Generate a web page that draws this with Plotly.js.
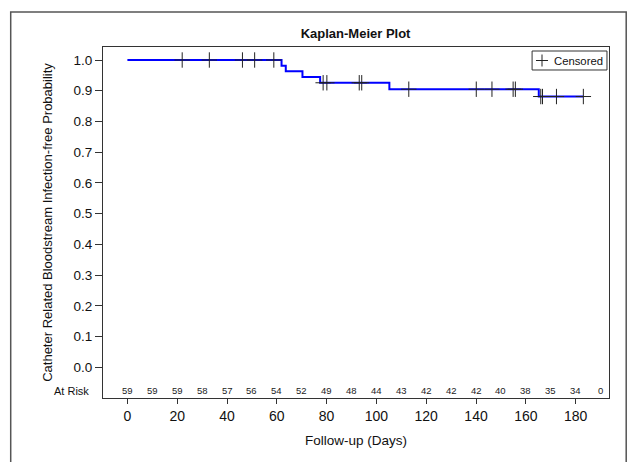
<!DOCTYPE html>
<html>
<head>
<meta charset="utf-8">
<script src="https://cdn.plot.ly/plotly-3.0.1.min.js"></script>
<style>html,body{margin:0;padding:0;background:#fff}#chart{width:631px;height:462px}</style>
</head>
<body>
<div id="chart"></div>
<script>
// Kaplan-Meier step data (event times in days and survival after each event)
var stepTimes = [0, 61.9, 63.6, 70.3, 77.4, 105.2, 165.2, 183.1];
var stepSurv  = [1.0, 0.9815, 0.9630, 0.9444, 0.9259, 0.9049, 0.8811, 0.8811];
// Censoring times (days)
var censorTimes = [22.0, 32.9, 46.2, 51.1, 58.8, 78.6, 80.1, 93.1, 94.1, 113.0,
                   140.1, 146.4, 154.9, 155.8, 166.0, 166.7, 172.3, 183.1];
// Number at risk table
var riskTimes = [0, 10, 20, 30, 40, 50, 60, 70, 80, 90, 100, 110, 120, 130, 140, 150, 160, 170, 180, 190];
var riskCounts = [59, 59, 59, 58, 57, 56, 54, 52, 49, 48, 44, 43, 42, 42, 42, 40, 38, 35, 34, 0];
// Tick labels
var xTicks = [0, 20, 40, 60, 80, 100, 120, 140, 160, 180];
var yTicks = [0, 0.1, 0.2, 0.3, 0.4, 0.5, 0.6, 0.7, 0.8, 0.9, 1.0];
var legendLabel = 'Censored';

function survAt(t) {
  var s = stepSurv[0];
  for (var i = 0; i < stepTimes.length; i++) { if (stepTimes[i] <= t) s = stepSurv[i]; }
  return s;
}
var censorSurv = censorTimes.map(survAt);

var font = "Liberation Sans, Arial, sans-serif";

var traces = [
  {x: stepTimes, y: stepSurv, mode: 'lines', line: {shape: 'hv', color: '#0000ff', width: 2},
   showlegend: false, hoverinfo: 'skip'},
  {x: censorTimes, y: censorSurv, mode: 'markers', name: legendLabel, showlegend: false,
   marker: {symbol: 'cross-thin', size: 11, color: '#222', line: {color: '#222', width: 1}}}
];

var annotations = riskTimes.map(function (t, i) {
  return {x: t, y: -0.077, xref: 'x', yref: 'y', text: String(riskCounts[i]), showarrow: false,
          font: {family: font, size: 9.5, color: '#222'}};
});
annotations.push({x: -0.024, y: -0.077, xref: 'paper', yref: 'y', xanchor: 'right', text: 'At Risk',
                  showarrow: false, font: {family: font, size: 11, color: '#111'}});
// legend text
annotations.push({x: 0.8874, y: 0.9615, xref: 'paper', yref: 'paper', xanchor: 'left', yanchor: 'middle',
                  text: legendLabel, showarrow: false, font: {family: font, size: 11.3, color: '#111'}});

var layout = {
  width: 631, height: 462,
  margin: {l: 103, r: 22, t: 47, b: 64},
  paper_bgcolor: '#fff', plot_bgcolor: '#fff',
  font: {family: font, color: '#111'},
  showlegend: false,
  title: {text: '<b>Kaplan-Meier Plot</b>', x: 0.5635, xanchor: 'center', y: 0.928, yanchor: 'middle',
          font: {family: font, size: 13, color: '#111'}},
  xaxis: {range: [-9.8, 193.4], tickvals: xTicks, ticks: 'outside', ticklen: 5, tickcolor: '#333',
          showline: true, linecolor: '#333', linewidth: 1, mirror: true, showgrid: false, zeroline: false,
          tickfont: {family: font, size: 14, color: '#111'},
          title: {text: 'Follow-up (Days)', font: {family: font, size: 13.5, color: '#111'}, standoff: 12}},
  yaxis: {range: [-0.1, 1.0423], tickvals: yTicks, tickformat: '.1f', ticks: 'outside', ticklen: 7,
          tickcolor: '#333', showline: true, linecolor: '#333', linewidth: 1, mirror: true,
          showgrid: false, zeroline: false, tickfont: {family: font, size: 13.5, color: '#111'},
          title: {text: 'Catheter Related Bloodstream Infection-free Probability',
                  font: {family: font, size: 13, color: '#111'}, standoff: 17}},
  annotations: annotations,
  shapes: [
    {type: 'rect', xref: 'paper', yref: 'paper', x0: -0.1824, x1: 1.034, y0: -0.25, y1: 1.1,
     line: {color: '#555', width: 1.5}},
    // legend box and symbol
    {type: 'rect', xref: 'paper', yref: 'paper', x0: 0.848, x1: 0.996, y0: 0.9345, y1: 0.9886,
     line: {color: '#333', width: 1}, fillcolor: '#fff'},
    {type: 'line', xref: 'paper', yref: 'paper', x0: 0.8557, x1: 0.8795, y0: 0.9615, y1: 0.9615,
     line: {color: '#222', width: 1}},
    {type: 'line', xref: 'paper', yref: 'paper', x0: 0.8676, x1: 0.8676, y0: 0.9444, y1: 0.9786,
     line: {color: '#222', width: 1}}
  ]
};

Plotly.newPlot('chart', traces, layout, {displayModeBar: false, staticPlot: true});
</script>
</body>
</html>
